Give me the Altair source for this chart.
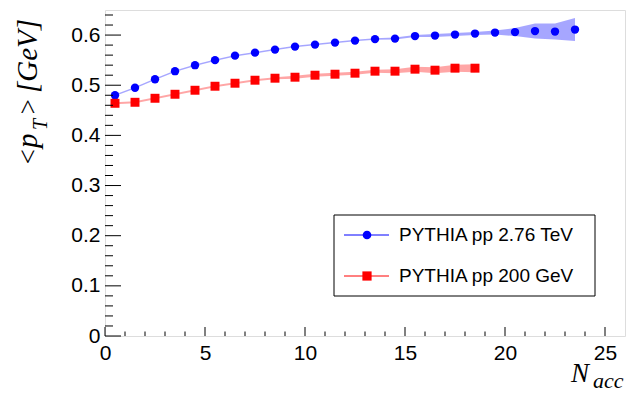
import altair as alt
import pandas as pd

# ---- data ----
nacc_276 = [0.5, 1.5, 2.5, 3.5, 4.5, 5.5, 6.5, 7.5, 8.5, 9.5, 10.5, 11.5,
            12.5, 13.5, 14.5, 15.5, 16.5, 17.5, 18.5, 19.5, 20.5, 21.5, 22.5, 23.5]
pt_276 = [0.480, 0.495, 0.512, 0.528, 0.540, 0.550, 0.559, 0.565, 0.571, 0.577,
          0.581, 0.585, 0.589, 0.592, 0.593, 0.598, 0.599, 0.601, 0.603, 0.605,
          0.606, 0.608, 0.607, 0.611]
err_276 = [0.0015, 0.0015, 0.0015, 0.0015, 0.0015, 0.0015, 0.0015, 0.0015, 0.0015, 0.0015,
           0.0015, 0.0015, 0.0015, 0.0015, 0.002, 0.002, 0.003, 0.003, 0.003, 0.004,
           0.008, 0.015, 0.016, 0.023]

nacc_200 = [0.5, 1.5, 2.5, 3.5, 4.5, 5.5, 6.5, 7.5, 8.5, 9.5, 10.5, 11.5,
            12.5, 13.5, 14.5, 15.5, 16.5, 17.5, 18.5]
pt_200 = [0.464, 0.466, 0.474, 0.482, 0.490, 0.498, 0.504, 0.510, 0.514, 0.516,
          0.520, 0.522, 0.524, 0.528, 0.528, 0.532, 0.530, 0.534, 0.534]
err_200 = [0.002, 0.002, 0.002, 0.002, 0.002, 0.002, 0.002, 0.002, 0.002, 0.003,
           0.003, 0.003, 0.003, 0.003, 0.004, 0.005, 0.006, 0.007, 0.008]

legend_labels = ["PYTHIA pp 2.76 TeV", "PYTHIA pp 200 GeV"]

x_major = [0, 5, 10, 15, 20, 25]
x_minor = [1, 2, 3, 4, 6, 7, 8, 9, 11, 12, 13, 14, 16, 17, 18, 19, 21, 22, 23, 24]
y_major = [0.0, 0.1, 0.2, 0.3, 0.4, 0.5, 0.6]
y_minor = [0.02, 0.04, 0.06, 0.08, 0.12, 0.14, 0.16, 0.18, 0.22, 0.24, 0.26, 0.28,
           0.32, 0.34, 0.36, 0.38, 0.42, 0.44, 0.46, 0.48, 0.52, 0.54, 0.56, 0.58,
           0.62, 0.64]

# ---- tables ----
blue = pd.DataFrame({"n": nacc_276, "pt": pt_276,
                     "lo": [v - e for v, e in zip(pt_276, err_276)],
                     "hi": [v + e for v, e in zip(pt_276, err_276)]})
red = pd.DataFrame({"n": nacc_200, "pt": pt_200,
                    "lo": [v - e for v, e in zip(pt_200, err_200)],
                    "hi": [v + e for v, e in zip(pt_200, err_200)]})
xmaj = pd.DataFrame({"n": x_major})
xmin = pd.DataFrame({"n": x_minor})
ymaj = pd.DataFrame({"pt": y_major})
ymin = pd.DataFrame({"pt": y_minor})
one = pd.DataFrame({"k": [0]})

W, H = 520, 326
BLUE, RED = "#0000ff", "#ff0000"
SANS = "Liberation Sans"
SERIF = "Liberation Serif"

xscale = alt.Scale(domain=[0, 26.0], nice=False, zero=False)
yscale = alt.Scale(domain=[0, 0.65], nice=False, zero=False)
xaxis = alt.Axis(values=x_major, labelFontSize=21, labelFont=SANS, labelColor="#000",
                 ticks=False, tickSize=0, domain=False, grid=False, title=None,
                 labelPadding=6, labelFlush=False)
yaxis = alt.Axis(values=y_major, format="~g", labelFontSize=21, labelFont=SANS,
                 labelColor="#000", ticks=False, tickSize=0, domain=False, grid=False,
                 title=None, labelPadding=5)

X = alt.X("n:Q", scale=xscale, axis=xaxis)


def Y(field):
    return alt.Y(field, type="quantitative", scale=yscale, axis=yaxis)


band_b = alt.Chart(blue).mark_area(color=BLUE, opacity=0.35).encode(x=X, y=Y("lo"), y2="hi")
band_r = alt.Chart(red).mark_area(color=RED, opacity=0.35).encode(x=X, y=Y("lo"), y2="hi")
pts_b = alt.Chart(blue).mark_point(shape="circle", filled=True, opacity=1, color=BLUE, size=70).encode(x=X, y=Y("pt"))
pts_r = alt.Chart(red).mark_point(shape="square", filled=True, opacity=1, color=RED, size=80).encode(x=X, y=Y("pt"))

tick_xM = alt.Chart(xmaj).mark_rule(color="#000", strokeWidth=1).encode(x=X, y=alt.value(H), y2=alt.value(H - 9))
tick_xm = alt.Chart(xmin).mark_rule(color="#000", strokeWidth=1).encode(x=X, y=alt.value(H), y2=alt.value(H - 4.5))
tick_yM = alt.Chart(ymaj).mark_rule(color="#000", strokeWidth=1).encode(y=Y("pt"), x=alt.value(0), x2=alt.value(16))
tick_ym = alt.Chart(ymin).mark_rule(color="#000", strokeWidth=1).encode(y=Y("pt"), x=alt.value(0), x2=alt.value(8))

# ---- legend ----
leg_box = alt.Chart(one).mark_rect(fill="white", stroke="#000", strokeWidth=1).encode(
    x=alt.value(229), x2=alt.value(490), y=alt.value(205), y2=alt.value(286))
leg_l1 = alt.Chart(one).mark_rule(color=BLUE, strokeWidth=1).encode(x=alt.value(239), x2=alt.value(284), y=alt.value(225))
leg_l2 = alt.Chart(one).mark_rule(color=RED, strokeWidth=1).encode(x=alt.value(239), x2=alt.value(284), y=alt.value(266))
leg_p1 = alt.Chart(one).mark_point(shape="circle", filled=True, opacity=1, color=BLUE, size=75).encode(x=alt.value(262), y=alt.value(225))
leg_p2 = alt.Chart(one).mark_point(shape="square", filled=True, opacity=1, color=RED, size=85).encode(x=alt.value(262), y=alt.value(266))
leg_t1 = alt.Chart(one).mark_text(align="left", baseline="middle", font=SANS, fontSize=19, color="#000").encode(
    x=alt.value(294), y=alt.value(225), text=alt.value(legend_labels[0]))
leg_t2 = alt.Chart(one).mark_text(align="left", baseline="middle", font=SANS, fontSize=19, color="#000").encode(
    x=alt.value(294), y=alt.value(266), text=alt.value(legend_labels[1]))


# ---- axis titles (with subscripts) ----
def title_text(txt, x, y, size, angle=0):
    return alt.Chart(one).mark_text(align="left", baseline="alphabetic", font=SERIF,
                                    fontStyle="italic", fontSize=size, color="#000",
                                    angle=angle).encode(
        x=alt.value(x), y=alt.value(y), text=alt.value(txt))


yt1 = title_text("<", -68, 156, 27, 270)
yt2 = title_text("p", -68, 138, 29, 270)
yt3 = title_text("T", -58, 120, 20, 270)
yt4 = title_text(">", -68, 106, 27, 270)
yt5 = title_text("[GeV]", -68, 83, 29, 270)
xt1 = title_text("N", 466, 372, 27)
xt2 = title_text("acc", 488, 378, 22)

chart = alt.layer(
    band_b, band_r, pts_b, pts_r,
    tick_xM, tick_xm, tick_yM, tick_ym,
    leg_box, leg_l1, leg_l2, leg_p1, leg_p2, leg_t1, leg_t2,
    yt1, yt2, yt3, yt4, yt5, xt1, xt2,
).properties(
    width=W, height=H,
    padding={"left": 97, "top": 2, "right": 1, "bottom": 57},
    autosize=alt.AutoSizeParams(type="none"),
).configure_view(stroke="#000", strokeWidth=1).configure(background="white")

chart.save("out.html", embed_options={"renderer": "svg", "actions": False})
